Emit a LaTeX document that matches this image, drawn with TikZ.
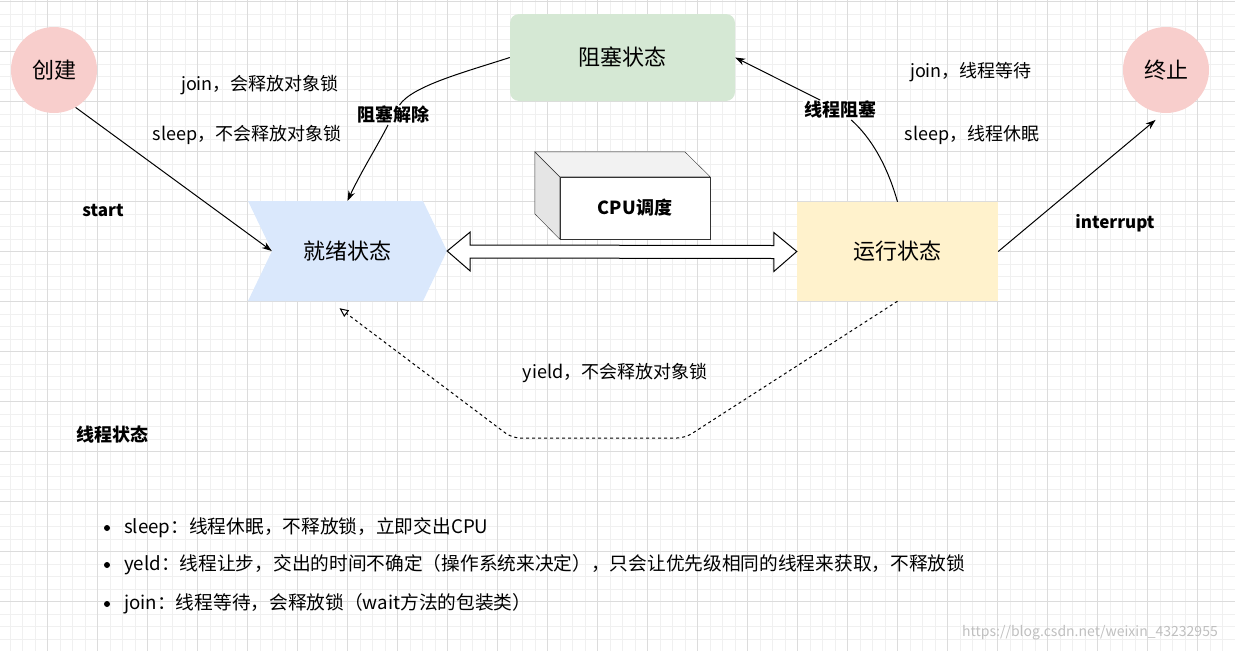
\documentclass[tikz,border=0pt]{standalone}
\usepackage{fontspec}
\setmainfont{Noto Sans CJK SC}
\usepackage{xcolor}
\definecolor{myred}{HTML}{F8CECC}
\definecolor{mygreen}{HTML}{D5E8D4}
\definecolor{myblue}{HTML}{DAE8FC}
\definecolor{myyellow}{HTML}{FFF2CC}
\definecolor{majorgrid}{HTML}{DCDCDC}
\definecolor{minorgrid}{HTML}{F0F0F0}
\usetikzlibrary{calc,arrows.meta}
\tikzstyle{state} = [circle, fill=myred, minimum size=86pt, font=\fontsize{22}{26}\selectfont]
\tikzstyle{block} = [rectangle, fill=mygreen, rounded corners=9pt, minimum width=225pt, minimum height=87pt, font=\fontsize{22}{26}\selectfont]
\tikzstyle{lbl} = [font=\fontsize{18}{22}\selectfont, inner sep=1pt]
\tikzstyle{note} = [font=\fontsize{18.7}{22}\selectfont, inner sep=1pt, anchor=west]
\tikzstyle{boldlbl} = [font=\fontsize{18}{22}\selectfont\bfseries, inner sep=1pt, fill=white]
\tikzstyle{line} = [draw, -{Stealth[length=10pt,width=7pt]}, line width=1pt]

\begin{document}
\begin{tikzpicture}[x=1pt, y=-1pt]
    \useasboundingbox (0,0) rectangle (1235,651);
    % grid
    \foreach \gx in {10.2,22.7,...,1235} \draw[minorgrid, line width=0.8pt] (\gx,0) -- (\gx,651);
    \foreach \gy in {1.5,14,...,651} \draw[minorgrid, line width=0.8pt] (0,\gy) -- (1235,\gy);
    \foreach \gx in {47.7,97.7,...,1235} \draw[majorgrid, line width=0.8pt] (\gx,0) -- (\gx,651);
    \foreach \gy in {1.5,51.5,...,651} \draw[majorgrid, line width=0.8pt] (0,\gy) -- (1235,\gy);

    % Nodes
    \node [state] (create) at (54,70) {创建};
    \node [state] (finish) at (1166,70) {终止};
    \node [block] (blocked) at (622.5,57.5) {阻塞状态};
    \node [rectangle, fill=myyellow, minimum width=201pt, minimum height=99pt, font=\fontsize{22}{26}\selectfont] (running) at (897.5,251.5) {运行状态};

    % ready state as chevron
    \fill[myblue] (248,201) -- (423,201) -- (447,251) -- (423,301) -- (248,301) -- (272,251) -- cycle;
    \node [rectangle, minimum width=199pt, minimum height=100pt, font=\fontsize{22}{26}\selectfont] (ready) at (347.5,251) {就绪状态};

    % cpu box
    \node [rectangle, draw=black!80, fill=white, minimum width=150pt, minimum height=62pt, font=\fontsize{18}{22}\selectfont\bfseries] (cpu) at (635,208) {CPU调度};
    \draw[draw=black!80, fill=black!10] (cpu.north west) -- ++(-25,-25) -- ++(0,62) -- (cpu.south west) -- cycle;
    \draw[draw=black!80, fill=black!5] (cpu.north west) -- ++(-25,-25) -- ++(150,0) -- (cpu.north east) -- cycle;

    % labels
    \node [lbl] (joinfree) at (260,85) {join，会释放对象锁};
    \node [lbl] (sleepkeep) at (247,135) {sleep，不会释放对象锁};
    \node [lbl] (joinwait) at (971,72) {join，线程等待};
    \node [lbl] (sleepnap) at (972,135) {sleep，线程休眠};
    \node [lbl] (yieldlbl) at (615,373) {yield，不会释放对象锁};
    \node [boldlbl, fill=none, font=\fontsize{17}{20}\selectfont\bfseries] (startlbl) at (103,210) {start};
    \node [boldlbl, fill=none, font=\fontsize{17}{20}\selectfont\bfseries] (interruptlbl) at (1115,223) {interrupt};
    \node [boldlbl, fill=none] (title) at (112,435) {线程状态};
    \node [boldlbl] (unblock) at (393,115) {阻塞解除};
    \node [boldlbl] (blocking) at (840,110) {线程阻塞};

    % arrows
    \draw[line] (create.-60) -- ([xshift=24pt]ready.west);
    \draw[line] (blocked.west) .. controls (465,72) and (412,86) .. (unblock) .. controls (378,145) and (362,170) .. (ready.north);
    \draw[line] (running.north) .. controls (890,175) and (876,142) .. (blocking) -- (blocked.east);
    \draw[line] (running.east) -- ($(finish.-104)+(0,8)$);

    \draw[fill=white, line width=1pt] (ready.east) -- ++(23,-19) -- ++(0,13) -- ($(running.west)+(-23,-6)$) -- ++(0,-13) -- (running.west) -- ++(-23,20) -- ++(0,-13) -- ($(ready.east)+(23,7)$) -- ++(0,13) -- cycle;

    \coordinate (yieldright) at (685,438);
    \coordinate (yieldleft) at (512,438);
    \draw[dashed, line width=1pt, rounded corners=8pt, -{Triangle[open,length=9pt,width=8pt]}] (running.south) -- (yieldright) -- (yieldleft) -- ($(ready.south)+(-8,7)$);

    % notes
    \foreach \y/\txt [count=\i] in {528/{sleep：线程休眠，不释放锁，立即交出CPU},
        565/{yeld：线程让步，交出的时间不确定（操作系统来决定），只会让优先级相同的线程来获取，不释放锁},
        604/{join：线程等待，会释放锁（wait方法的包装类）}} {
        \fill (107,\y) circle (3pt);
        \node [note] (item\i) at (123,\y) {\txt};
    }
    \node [font=\fontsize{14}{16}\selectfont, text=black!25] (mark) at (1090,633) {https://blog.csdn.net/weixin\_43232955};
\end{tikzpicture}
\end{document}
